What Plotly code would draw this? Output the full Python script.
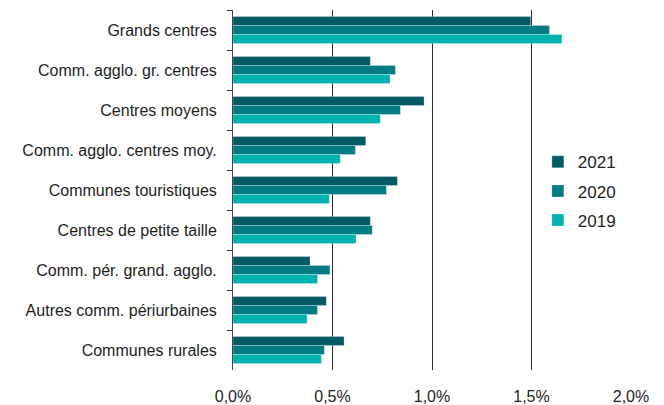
import plotly.graph_objects as go

categories = ["Grands centres", "Comm. agglo. gr. centres", "Centres moyens",
              "Comm. agglo. centres moy.", "Communes touristiques",
              "Centres de petite taille", "Comm. pér. grand. agglo.",
              "Autres comm. périurbaines", "Communes rurales"]
v2021 = [1.496, 0.690, 0.960, 0.667, 0.826, 0.690, 0.387, 0.469, 0.558]
v2020 = [1.590, 0.816, 0.841, 0.615, 0.771, 0.700, 0.487, 0.424, 0.459]
v2019 = [1.653, 0.789, 0.740, 0.539, 0.484, 0.618, 0.425, 0.372, 0.444]
series = [("2021", v2021, "#035b66"), ("2020", v2020, "#027b82"), ("2019", v2019, "#00b2ae")]
xticks = [0, 0.5, 1.0, 1.5, 2.0]
xticklabels = ["0,0%", "0,5%", "1,0%", "1,5%", "2,0%"]

fig = go.Figure()
for name, vals, col in series:
    fig.add_trace(go.Bar(
        y=categories, x=vals, name=name, orientation="h", legendgroup=name,
        marker=dict(color=col, line=dict(color="rgba(255,255,255,0.45)", width=0.6)),
    ))

fig.update_layout(
    width=656, height=397,
    margin=dict(l=225, r=33, t=2, b=35),
    paper_bgcolor="white", plot_bgcolor="white",
    barmode="group", bargap=0.33, bargroupgap=0,
    font=dict(family="Liberation Sans, Arial, sans-serif", size=16, color="#1e1e1e"),
    showlegend=True,
    legend=dict(x=0.766, y=0.627, xanchor="left", yanchor="top",
                font=dict(size=17), bgcolor="rgba(255,255,255,0)",
                itemwidth=30, tracegroupgap=4, traceorder="grouped"),
    xaxis=dict(range=[0, 2.0], tickvals=xticks, ticktext=xticklabels,
               showgrid=True, gridcolor="#2b2b2b", gridwidth=1, automargin=False,
               zeroline=False, showline=False, ticks="", ticklabelstandoff=15),
    yaxis=dict(autorange="reversed", showline=True, linecolor="#444", linewidth=1,
               ticks="outside", tickson="boundaries", ticklen=5, tickcolor="#444",
               showgrid=False, ticklabelstandoff=12, automargin=False),
)

fig.write_html("out.html")
